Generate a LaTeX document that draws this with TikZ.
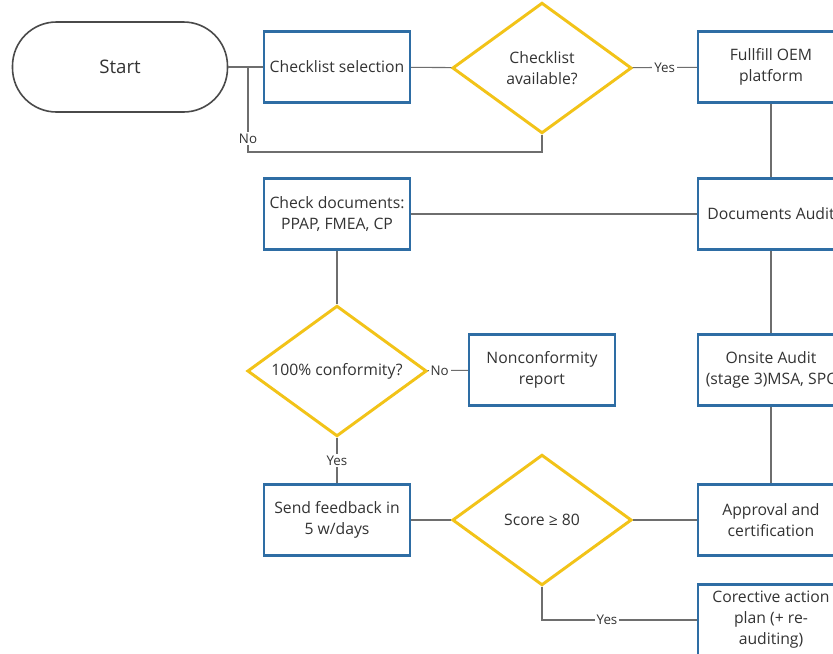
\documentclass[tikz,border=0pt]{standalone}
\usepackage{fontspec}
\setmainfont{Open Sans}
\usetikzlibrary{shapes.geometric}
\definecolor{boxblue}{HTML}{2E6DA4}
\definecolor{diagold}{HTML}{F2C318}
\definecolor{linegray}{HTML}{6E6E6E}
\definecolor{termgray}{HTML}{4A4A4A}
\definecolor{txtgray}{HTML}{333333}

\begin{document}
\begin{tikzpicture}[x=0.75pt,y=-0.75pt,
    txt/.style={font=\fontsize{11.8}{15.75}\selectfont, text=txtgray, align=center},
    procbox/.style={txt, draw=boxblue, line width=1.8pt, fill=white,
      minimum width=109.5pt, minimum height=53.25pt, inner sep=0pt},
    termbox/.style={txt, font=\fontsize{14}{17}\selectfont, draw=termgray, line width=1.2pt,
      rounded corners=33pt, minimum width=161.25pt, minimum height=67.5pt},
    decision/.style={txt, diamond, draw=diagold, line width=2.2pt, fill=white,
      minimum width=134.5pt, minimum height=98pt, inner sep=0pt, aspect=1.4},
    conn/.style={draw=linegray, line width=0.8pt},
    lbl/.style={fill=white, inner sep=1.5pt, font=\fontsize{10}{12}\selectfont, text=txtgray}]
  \clip (0,0) rectangle (833,654);
  \fill[white] (0,0) rectangle (833,654);

  % top row
  \node[termbox] (start) at (120,67) {Start};
  \node[procbox] (sel) at (337,67) {Checklist selection};
  \node[decision] (chk) at (542,68) {Checklist\\available?};
  \node[procbox] (oem) at (771,67) {Fullfill OEM\\platform};
  \coordinate (j1) at (248,67);
  \coordinate (nocorner) at (248,152);

  % documents
  \node[procbox] (docchk) at (337,214) {Check documents:\\PPAP, FMEA, CP};
  \node[procbox] (docaud) at (771,214) {Documents Audit};

  % conformity
  \node[decision] (conf) at (337,371) {100\% conformity?};
  \node[procbox] (ncr) at (542,370) {Nonconformity\\report};
  \node[procbox] (onsite) at (771,370) {Onsite Audit\\(stage 3)MSA, SPC};

  % score
  \node[procbox] (fb) at (337,520) {Send feedback in\\5 w/days};
  \node[decision] (score) at (542,520) {Score ≥ 80};
  \node[procbox] (appr) at (771,520) {Approval and\\certification};
  \node[procbox] (cap) at (771,620) {Corective action\\plan (+ re-\\auditing)};

  % connectors
  \draw[conn] (start) -- (sel);
  \draw[conn] (sel) -- (chk);
  \draw[conn] (chk) -- node[lbl]{Yes} (oem);
  \draw[conn] (chk.south) |- (nocorner) -- node[lbl,pos=0.16]{No} (j1);
  \draw[conn] (oem) -- (docaud);
  \draw[conn] (docchk) -- (docaud);
  \draw[conn] (docaud) -- (onsite);
  \draw[conn] (onsite) -- (appr);
  \draw[conn] (docchk) -- (conf);
  \draw[conn] (conf) -- node[lbl,pos=0.3]{No} (ncr);
  \draw[conn] (conf) -- node[lbl]{Yes} (fb);
  \draw[conn] (fb) -- (score);
  \draw[conn] (score) -- (appr);
  \draw[conn] (score.south) |- node[lbl,pos=0.71]{Yes} (cap);
\end{tikzpicture}
\end{document}
